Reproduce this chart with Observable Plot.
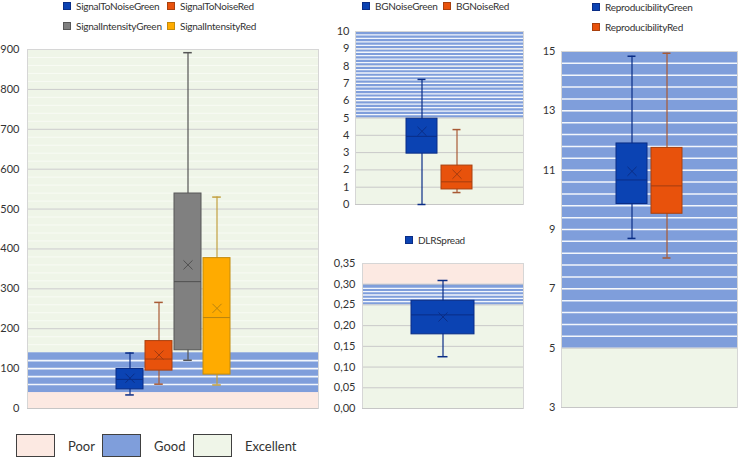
<!DOCTYPE html>
<html><head><meta charset="utf-8">
<script src="https://cdn.jsdelivr.net/npm/d3@7"></script>
<script src="https://cdn.jsdelivr.net/npm/@observablehq/plot@0.6"></script>
<style>
html,body{margin:0;padding:0;background:#fff;}
#root{position:relative;width:740px;height:460px;font-family:Lato,"Open Sans",sans-serif;color:#333;overflow:hidden;}
.panel{position:absolute;}
.lg{position:absolute;font-size:10px;letter-spacing:-0.25px;white-space:nowrap;line-height:12px;}
.sw{position:absolute;width:8px;height:8px;border:1px solid #555;box-sizing:border-box;}
.bl{position:absolute;font-size:13px;}
.bx{position:absolute;width:39px;height:23px;border:1.5px solid #404040;box-sizing:border-box;}
</style></head>
<body><div id="root"></div>
<script>
// ---- Data ----
const leftNames = ["SignalToNoiseGreen","SignalToNoiseRed","SignalIntensityGreen","SignalIntensityRed"];
const leftLo     = [34, 61, 121, 59];
const leftQ1     = [48, 95, 146, 85];
const leftMedian = [73, 124, 318, 228];
const leftQ3     = [99, 169, 539, 377];
const leftHi     = [139, 266, 892, 530];
const leftMean   = [76, 134, 360, 251];
const leftTicks  = [0,100,200,300,400,500,600,700,800,900];
const leftBands  = [["Poor",0,40],["Good",40,140],["Excellent",140,900]];

const bgNames  = ["BGNoiseGreen","BGNoiseRed"];
const bgLo     = [0, 0.69];
const bgQ1     = [2.94, 0.87];
const bgMedian = [3.94, 1.31];
const bgQ3     = [4.96, 2.25];
const bgHi     = [7.23, 4.33];
const bgMean   = [4.23, 1.75];
const bgTicks  = [0,1,2,3,4,5,6,7,8,9,10];
const bgBands  = [["Excellent",0,5],["Good",5,10]];

const dlrNames  = ["DLRSpread"];
const dlrLo     = [0.125];
const dlrQ1     = [0.179];
const dlrMedian = [0.226];
const dlrQ3     = [0.260];
const dlrHi     = [0.309];
const dlrMean   = [0.221];
const dlrTicks  = [0,0.05,0.10,0.15,0.20,0.25,0.30,0.35];
const dlrBands  = [["Excellent",0,0.25],["Good",0.25,0.30],["Poor",0.30,0.35]];

const repNames  = ["ReproducibilityGreen","ReproducibilityRed"];
const repLo     = [8.70, 8.04];
const repQ1     = [9.86, 9.53];
const repMedian = [10.67, 10.47];
const repQ3     = [11.90, 11.75];
const repHi     = [14.84, 14.94];
const repMean   = [10.96, null];
const repTicks  = [3,5,7,9,11,13,15];
const repBands  = [["Excellent",3,5],["Good",5,15]];

const qualityNames = ["Poor","Good","Excellent"];

// ---- Styles ----
const bandFill = {Poor:"#fce9e2", Good:"#7f9edb", Excellent:"#eff5e8"};
const seriesStyle = {
  blue:   {fill:"#0b43b3", stroke:"#0a2d86", whisker:"#0a2d86", median:"#0a2d86"},
  orange: {fill:"#e8520c", stroke:"#a9400e", whisker:"#a85a35", median:"#a33c10"},
  gray:   {fill:"#808080", stroke:"#575757", whisker:"#555555", median:"#505050"},
  yellow: {fill:"#ffab00", stroke:"#c38b0c", whisker:"#c2a040", median:"#b88410"}
};

function rows(names, lo, q1, med, q3, hi, mean, styles){
  return names.map((n,i)=>({name:n, lo:lo[i], q1:q1[i], med:med[i], q3:q3[i], hi:hi[i], mean:mean[i], st:seriesStyle[styles[i]]}));
}

function panel(cfg){
  const data = cfg.data;
  const bands = cfg.bands.map(([q,a,b])=>({q, a, b}));
  const good = bands.find(d=>d.q==="Good");
  const stripes = good ? d3.range(good.a + cfg.stripeStep, good.b - cfg.stripeStep*0.3, cfg.stripeStep) : [];
  const exc = bands.find(d=>d.q==="Excellent");
  const faint = (exc && cfg.faintStep) ? d3.range(exc.a + cfg.faintStep, exc.b, cfg.faintStep) : [];
  const plotW = cfg.width - cfg.ml - cfg.mr;
  const step = plotW / (data.length - cfg.pi + 2*cfg.po);
  const bw = step*(1-cfg.pi);
  const ins = Math.max(0,(bw-cfg.cap)/2);
  return Plot.plot({
    width: cfg.width, height: cfg.height,
    marginLeft: cfg.ml, marginRight: cfg.mr, marginTop: cfg.mt, marginBottom: cfg.mb,
    style: {fontFamily:"Lato, 'Open Sans', sans-serif", fontSize:"11px", color:"#333", background:"transparent"},
    x: {type:"band", domain: data.map(d=>d.name), paddingInner: cfg.pi, paddingOuter: cfg.po, axis:null},
    y: {domain: cfg.domain, axis:null},
    color: {type:"identity"},
    marks: [
      Plot.rectY(bands, {y1:"a", y2:"b", fill: d=>bandFill[d.q]}),
      Plot.ruleY(faint, {stroke:"#f8fbf4", strokeWidth:1}),
      Plot.ruleY(cfg.ticks.filter(t=>t>cfg.domain[0] && t<cfg.domain[1]), {stroke:"#c9c9c9", strokeWidth:1}),
      Plot.ruleY(stripes, {stroke:"#ffffff", strokeWidth: cfg.stripeW, strokeOpacity:0.9}),
      Plot.frame({stroke:"#d6d6d6"}),
      Plot.ruleY([cfg.domain[0]], {stroke:"#c6c6c6"}),
      Plot.axisY({ticks: cfg.ticks, tickSize:0, tickPadding: cfg.tp ?? 6, tickFormat: cfg.fmt, label:null}),
      Plot.ruleX(data, {x:"name", y1:"lo", y2:"hi", stroke: d=>d.st.whisker, strokeWidth:1.2}),
      Plot.tickY(data, {x:"name", y:"hi", stroke: d=>d.st.whisker, strokeWidth:1.5, insetLeft:ins, insetRight:ins}),
      Plot.tickY(data, {x:"name", y:"lo", stroke: d=>d.st.whisker, strokeWidth:1.5, insetLeft:ins, insetRight:ins}),
      Plot.barY(data, {x:"name", y1:"q1", y2:"q3", fill: d=>d.st.fill, stroke: d=>d.st.stroke, strokeWidth:1}),
      Plot.tickY(data, {x:"name", y:"med", stroke: d=>d.st.median, strokeWidth:1}),
      Plot.dot(data.filter(d=>d.mean!=null), {x:"name", y:"mean", symbol:"times", r:4.2, stroke: d=>d.st.median, strokeWidth:1})
    ]
  });
}

const root = document.getElementById("root");
function place(node, left, top){ const d=document.createElement("div"); d.className="panel"; d.style.left=left+"px"; d.style.top=top+"px"; d.appendChild(node); root.appendChild(d); }
function legendItem(name, st, swLeft, cy){
  const sw=document.createElement("div"); sw.className="sw";
  sw.style.left=swLeft+"px"; sw.style.top=(cy-4)+"px";
  sw.style.background=seriesStyle[st].fill; sw.style.borderColor=seriesStyle[st].stroke;
  root.appendChild(sw);
  const t=document.createElement("div"); t.className="lg";
  t.style.left=(swLeft+13)+"px"; t.style.top=(cy-6.5)+"px"; t.textContent=name;
  root.appendChild(t);
}

// Left panel
place(panel({
  data: rows(leftNames,leftLo,leftQ1,leftMedian,leftQ3,leftHi,leftMean,["blue","orange","gray","yellow"]),
  bands: leftBands, domain:[0,900], ticks:leftTicks, fmt: d3.format("d"),
  width:330, height:420, ml:27, mr:12, mt:49, mb:12, pi:0.07, po:2.97, cap:9,
  stripeStep:20, stripeW:1.6, faintStep:20, tp:8
}), 0, 0);

// BGNoise
place(panel({
  data: rows(bgNames,bgLo,bgQ1,bgMedian,bgQ3,bgHi,bgMean,["blue","orange"]),
  bands: bgBands, domain:[0,10], ticks:bgTicks, fmt: d3.format("d"),
  width:200, height:215, ml:25, mr:7, mt:31, mb:11, pi:0.11, po:1.39, cap:9,
  stripeStep:0.2, stripeW:1.3, faintStep:0, tp:6
}), 330, 0);

// DLRSpread
place(panel({
  data: rows(dlrNames,dlrLo,dlrQ1,dlrMedian,dlrQ3,dlrHi,dlrMean,["blue"]),
  bands: dlrBands, domain:[0,0.35], ticks:dlrTicks, fmt: d=>d.toFixed(2).replace(".",","),
  width:200, height:210, ml:32, mr:7, mt:53, mb:12, pi:0.1, po:0.7, cap:10,
  stripeStep:0.008, stripeW:1.3, faintStep:0, tp:7
}), 330, 210);

// Reproducibility
place(panel({
  data: rows(repNames,repLo,repQ1,repMedian,repQ3,repHi,repMean,["blue","orange"]),
  bands: repBands, domain:[3,15], ticks:repTicks, fmt: d3.format("d"),
  width:220, height:420, ml:41, mr:3, mt:51, mb:13, pi:0.11, po:1.5, cap:9,
  stripeStep:0.4, stripeW:1.5, faintStep:0, tp:6
}), 520, 0);

// Series legends
legendItem(leftNames[0], "blue", 63, 6);
legendItem(leftNames[1], "orange", 167, 6);
legendItem(leftNames[2], "gray", 63, 26);
legendItem(leftNames[3], "yellow", 167, 26);
legendItem(bgNames[0], "blue", 362, 6);
legendItem(bgNames[1], "orange", 443, 6);
legendItem(dlrNames[0], "blue", 405, 240);
legendItem(repNames[0], "blue", 592, 7);
legendItem(repNames[1], "orange", 592, 27);

// Quality legend
const qPos = [[16,68],[102,154],[193,245]];
qualityNames.forEach((q,i)=>{
  const b=document.createElement("div"); b.className="bx"; b.style.left=qPos[i][0]+"px"; b.style.top="434px"; b.style.background=bandFill[q]; root.appendChild(b);
  const t=document.createElement("div"); t.className="bl"; t.style.left=qPos[i][1]+"px"; t.style.top="438px"; t.textContent=q; root.appendChild(t);
});
</script></body></html>
